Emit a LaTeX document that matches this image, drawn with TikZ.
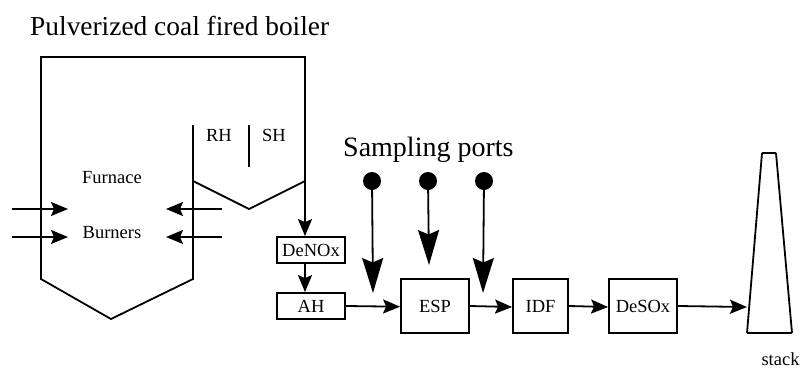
\documentclass[tikz,border=0pt]{standalone}
\usepackage{fontspec}
\setmainfont{Liberation Serif}
\usetikzlibrary{arrows.meta}
\tikzset{
  x=1pt,y=-1pt,
  wall/.style={line width=1.8pt,line join=miter},
  flow/.style={line width=1.8pt,-{Stealth[length=17pt,width=14pt,inset=3pt]}},
  bigflow/.style={line width=1.8pt,-{Stealth[length=35pt,width=21pt,inset=4.5pt]}},
  unit/.style={draw,line width=1.8pt,inner sep=0pt,minimum width=#1,font=\fontsize{18.5}{20}\selectfont},
  lab/.style={inner sep=0pt,font=\fontsize{18.5}{20}\selectfont},
  port/.style={circle,fill=black,inner sep=0pt,minimum size=18pt}
}
\begin{document}
\begin{tikzpicture}
\useasboundingbox (0,0) rectangle (800,370);
% labels
\node[inner sep=0pt,anchor=base west,font=\fontsize{27.4}{30}\selectfont] (title) at (30,35) {Pulverized coal fired boiler};
\node[inner sep=0pt,anchor=base west,font=\fontsize{28}{30}\selectfont] (sampling) at (343,156) {Sampling ports};
\node[lab] (furnace) at (112,178) {Furnace};
\node[lab] (burners) at (112,233) {Burners};
\node[lab] (rh) at (219,135) {RH};
\node[lab] (sh) at (274,135) {SH};
\node[lab] (stack) at (780.5,359) {stack};
% boiler
\draw[wall] (193,125) -- (193,279) -- (111,319) -- (41,279) -- (41,57) -- (305,57) -- (305,181);
\draw[wall] (193,181) -- (249,209) -- (305,181);
\draw[wall] (249,125) -- (249,167);
% units
\node[unit=68.5pt,minimum height=26pt] (denox) at (311,250) {DeNOx};
\node[unit=68.5pt,minimum height=26pt] (ah) at (311,306) {AH};
\node[unit=68pt,minimum height=54pt] (esp) at (435,306) {ESP};
\node[unit=55pt,minimum height=54pt] (idf) at (540.5,306) {IDF};
\node[unit=68pt,minimum height=54pt] (desox) at (643,306) {DeSOx};
% stack
\draw[line width=1.8pt,line join=round,rounded corners=0.8pt] (747,333) -- (762,153) -- (776,153) -- (792,333) -- cycle;
\coordinate (stackin) at (747,307);
% ports
\node[port] (p1) at (372,181) {};
\node[port] (p2) at (428,181) {};
\node[port] (p3) at (484,181) {};
\coordinate (e1) at (373,293);
\coordinate (e2) at (429,265);
\coordinate (e3) at (483,293);
\draw[bigflow] (p1.center) -- (e1);
\draw[bigflow] (p2.center) -- (e2);
\draw[bigflow] (p3.center) -- (e3);
% burner arrows
\coordinate (b1s) at (12,209); \coordinate (b1e) at (68,209);
\coordinate (b2s) at (12,237); \coordinate (b2e) at (68,237);
\coordinate (b3s) at (222,209); \coordinate (b3e) at (166,209);
\coordinate (b4s) at (222,237); \coordinate (b4e) at (166,237);
\draw[flow] (b1s) -- (b1e);
\draw[flow] (b2s) -- (b2e);
\draw[flow] (b3s) -- (b3e);
\draw[flow] (b4s) -- (b4e);
% process flow
\coordinate (outlet) at (305,181);
\draw[flow] (outlet) -- (outlet |- denox.north);
\draw[flow] (denox.south -| outlet) -- (ah.north -| outlet);
\draw[flow] (ah.east) -- ([yshift=-0.7pt]esp.west);
\draw[flow] (esp.east) -- ([yshift=-1pt]idf.west);
\draw[flow] (idf.east) -- ([yshift=-1pt]desox.west);
\draw[flow] (desox.east) -- (stackin);
\end{tikzpicture}
\end{document}
